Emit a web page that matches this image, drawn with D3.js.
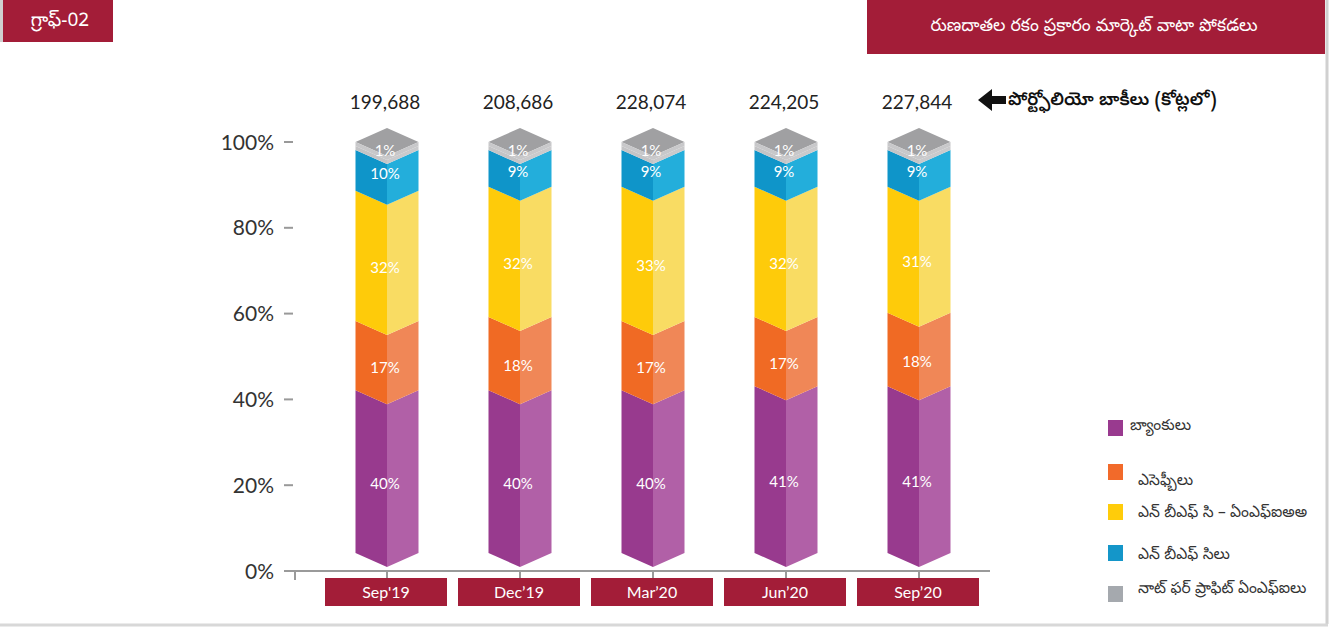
<!DOCTYPE html>
<html lang="te">
<head>
  <meta charset="UTF-8">
  <title>రుణదాతల రకం ప్రకారం మార్కెట్ వాటా పోకడలు</title>
  <script src="https://d3js.org/d3.v7.min.js"></script>
  <style>
    body { margin: 0; background: #fff; }
    svg { display: block; }
    text { font-family: "Noto Sans Telugu", "Gautami", "Lohit Telugu", "Noto Sans", sans-serif; }
    .num { font-family: Lato, "Open Sans", "Noto Sans", sans-serif; }
  </style>
</head>
<body>
<svg id="chart" width="1331" height="627"></svg>
<script>
  // data
  const periods = ["Sep'19", "Dec’19", "Mar’20", "Jun’20", "Sep’20"];
  const totals = [199688, 208686, 228074, 224205, 227844];
  const banks = [40, 40, 40, 41, 41];
  const sfbs = [17, 18, 17, 17, 18];
  const nbfcMfis = [32, 32, 33, 32, 31];
  const nbfcs = [10, 9, 9, 9, 9];
  const nfpMfis = [1, 1, 1, 1, 1];
  const yTicks = [0, 0.2, 0.4, 0.6, 0.8, 1];

  const seriesNames = ["బ్యాంకులు", "ఎసెఫ్బీలు", "ఎన్ బీఎఫ్ సి – ఏంఎఫ్ఐఅఅ", "ఎన్ బీఎఫ్ సిలు", "నాట్ ఫర్ ప్రాఫిట్ ఏంఎఫ్ఐలు"];
  const seriesValues = [banks, sfbs, nbfcMfis, nbfcs, nfpMfis];
  const faceColors = [
    { left: "#983a8e", right: "#b160a7", key: "#993a8f" },
    { left: "#f06a24", right: "#f08757", key: "#f26a2a" },
    { left: "#fecb0a", right: "#f9dc63", key: "#ffcc0a" },
    { left: "#0f95c9", right: "#23aedb", key: "#1496c9" },
    { left: "#c4c4c6", right: "#cacacc", key: "#a5a9ae" }
  ];

  const svg = d3.select("#chart");
  const red = "#a31d38";

  // frame lines
  svg.append("line").attr("x1", 1327).attr("x2", 1327).attr("y1", 0).attr("y2", 624)
    .attr("stroke", "#d0d0d0").attr("stroke-width", 3);
  svg.append("line").attr("x1", 0).attr("x2", 1328).attr("y1", 625).attr("y2", 625)
    .attr("stroke", "#d8d8d8").attr("stroke-width", 3);
  svg.append("line").attr("x1", 1.5).attr("x2", 1.5).attr("y1", 0).attr("y2", 42)
    .attr("stroke", "#d0d0d0").attr("stroke-width", 3);

  // header boxes
  svg.append("rect").attr("x", 3).attr("y", 0).attr("width", 110).attr("height", 42).attr("fill", red);
  svg.append("text").attr("x", 60).attr("y", 26).attr("text-anchor", "middle")
    .attr("fill", "#fff").attr("font-size", 19).text("గ్రాఫ్-02");
  svg.append("rect").attr("x", 867).attr("y", 0).attr("width", 458).attr("height", 54).attr("fill", red);
  svg.append("text").attr("x", 1094).attr("y", 31).attr("text-anchor", "middle")
    .attr("fill", "#fff").attr("font-size", 17.5).text("రుణదాతల రకం  ప్రకారం మార్కెట్ వాటా పోకడలు");

  // scales
  const x = d3.scaleBand().domain(periods).range([320.5, 985.5]).padding(0);
  const y = d3.scaleLinear().domain([0, 1]).range([571, 142]);
  const yBar = d3.scaleLinear().domain([0, 100]).range([553, 146]);
  const half = 31.5, dip = 14;

  // y axis labels + dashes
  const yAxis = svg.append("g");
  yTicks.forEach(t => {
    yAxis.append("text").attr("class", "num").attr("x", 274).attr("y", y(t) + 7.5)
      .attr("text-anchor", "end").attr("font-size", 21).attr("fill", "#333")
      .text(d3.format(".0%")(t));
    if (t > 0) {
      yAxis.append("line").attr("x1", 284).attr("x2", 293).attr("y1", y(t)).attr("y2", y(t))
        .attr("stroke", "#999").attr("stroke-width", 2);
    }
  });

  // x axis line and ticks
  svg.append("line").attr("x1", 284).attr("x2", 990).attr("y1", y(0)).attr("y2", y(0))
    .attr("stroke", "#9a9a9a").attr("stroke-width", 2);
  svg.append("line").attr("x1", 295).attr("x2", 295).attr("y1", y(0)).attr("y2", 580)
    .attr("stroke", "#9a9a9a").attr("stroke-width", 2);

  periods.forEach((p, i) => {
    const cx = x(p) + x.bandwidth() / 2;
    const g = svg.append("g");
    let cum = 0;
    seriesValues.forEach((vals, s) => {
      const v0 = cum, v1 = cum + vals[i];
      cum = v1;
      const e0 = yBar(v0), e1 = yBar(v1);
      const c = faceColors[s];
      // left face
      g.append("polygon")
        .attr("points", [[cx - half, e1], [cx, e1 + dip], [cx, e0 + dip], [cx - half, e0]].join(" "))
        .attr("fill", c.left);
      // right face
      g.append("polygon")
        .attr("points", [[cx, e1 + dip], [cx + half, e1], [cx + half, e0], [cx, e0 + dip]].join(" "))
        .attr("fill", c.right);
    });
    // top cap
    const top = yBar(cum);
    g.append("polygon")
      .attr("points", [[cx - half, top - 4], [cx, top - 18], [cx + half, top - 4], [cx, top + dip - 4]].join(" "))
      .attr("fill", "#a0a0a2");
    g.append("polygon")
      .attr("points", [[cx - half, top - 4], [cx, top + dip - 4], [cx + half, top - 4], [cx + half, top], [cx, top + dip], [cx - half, top]].join(" "))
      .attr("fill", "#c8c8ca");

    // value labels
    cum = 0;
    seriesValues.forEach((vals, s) => {
      const v0 = cum, v1 = cum + vals[i];
      cum = v1;
      let ly = (yBar(v0) + yBar(v1)) / 2 + 12 + 5;
      if (s === 3) ly = (yBar(v0) + yBar(v1)) / 2 + 4 + 5;
      if (s === 4) ly = yBar(v1) + 10;
      g.append("text").attr("class", "num").attr("x", cx - 2).attr("y", ly)
        .attr("text-anchor", "middle").attr("font-size", 15)
        .attr("fill", "#fff").text(vals[i] + "%");
    });

    // totals
    svg.append("text").attr("class", "num").attr("x", cx - 2).attr("y", 109)
      .attr("text-anchor", "middle").attr("font-size", 19).attr("fill", "#222")
      .text(d3.format(",")(totals[i]));

    // tick + category box
    svg.append("line").attr("x1", cx).attr("x2", cx).attr("y1", y(0)).attr("y2", 580)
      .attr("stroke", "#9a9a9a").attr("stroke-width", 2);
    svg.append("rect").attr("x", cx - 62).attr("y", 578).attr("width", 122).attr("height", 28).attr("fill", red);
    svg.append("text").attr("class", "num").attr("x", cx - 1).attr("y", 598)
      .attr("text-anchor", "middle").attr("font-size", 16).attr("fill", "#fff").text(p);
  });

  // arrow annotation
  svg.append("polygon")
    .attr("points", [[978, 100], [992, 89], [992, 96], [1006, 96], [1006, 104], [992, 104], [992, 111]].join(" "))
    .attr("fill", "#111");
  svg.append("text").attr("x", 1008).attr("y", 105).attr("font-size", 18).attr("font-weight", 600)
    .attr("fill", "#111").text("పోర్ట్ఫోలియో బాకీలు (కోట్లలో)");

  // legend
  const legY = [420, 464, 504, 545, 586];
  const legTextY = [430, 485, 517, 559, 593];
  const legTextX = [1130, 1138, 1138, 1138, 1138];
  seriesNames.forEach((n, s) => {
    svg.append("rect").attr("x", 1108).attr("y", legY[s]).attr("width", 15).attr("height", 16)
      .attr("fill", faceColors[s].key);
    svg.append("text").attr("x", legTextX[s]).attr("y", legTextY[s]).attr("font-size", 15.5)
      .attr("fill", "#333").text(n);
  });
</script>
</body>
</html>
